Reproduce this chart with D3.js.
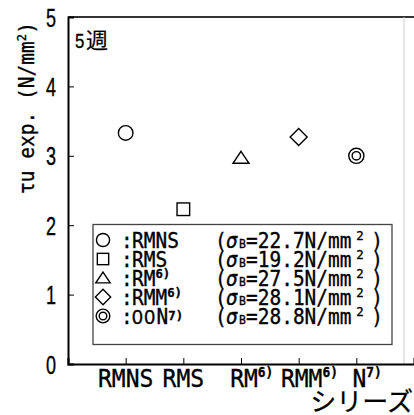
<!DOCTYPE html>
<html>
<head>
<meta charset="utf-8">
<script src="https://cdn.jsdelivr.net/npm/d3@7"></script>
<style>
  body { margin: 0; background: #fff; }
  text { font-family: "DejaVu Sans Mono", "Liberation Mono", monospace; fill: #000; stroke: #000; stroke-width: 0.35px; }
</style>
</head>
<body>
<div id="chart"></div>
<script>
// series on the x axis
const categories = ["RMNS", "RMS", "RM", "RMM", "N"];
const categorySup = ["", "", "6)", "6)", "7)"];
const shapes = ["circle", "square", "triangle", "diamond", "double"];
// tau u exp. values (N/mm2), 5 weeks
const tauValues = [3.33, 2.23, 2.97, 3.27, 3.00];
// legend
const legendNames = ["RMNS", "RMS", "RM", "RMM", "00N"];
const legendSup = ["", "", "6)", "6)", "7)"];
const sigmaB = ["22.7", "19.2", "27.5", "28.1", "28.8"];
const yTicks = [0, 1, 2, 3, 4, 5];

const width = 414, height = 415;
const mLeft = 68, mRight = 414, mTop = 17, mBottom = 364;
const cjk = "'Noto Sans CJK JP', sans-serif";
const sans = "'Liberation Sans', Arial, sans-serif";
const adv = 0.602; // mono advance per em

const svg = d3.select("#chart").append("svg")
    .attr("width", width)
    .attr("height", height);

const x = d3.scaleLinear().domain([0, categories.length + 1]).range([mLeft, mRight]);
const y = d3.scaleLinear().domain([0, 5]).range([mBottom, mTop]);

// narrow text: monospace squeezed horizontally
function ctext(parent, tx, ty, size, sx) {
    return parent.append("text")
        .attr("transform", `translate(${tx},${ty}) scale(${sx},1)`)
        .attr("font-size", size);
}

// frame: top dark, right light grey
svg.append("line").attr("x1", mLeft).attr("x2", mRight).attr("y1", mTop).attr("y2", mTop)
    .attr("stroke", "#333").attr("stroke-width", 2);
svg.append("line").attr("x1", 404).attr("x2", 404).attr("y1", mTop).attr("y2", mBottom)
    .attr("stroke", "#ccc").attr("stroke-width", 1);

// y axis
const yAxis = svg.append("g").attr("transform", `translate(${mLeft},0)`)
    .call(d3.axisLeft(y).tickValues(yTicks).tickSize(-6).tickFormat(d3.format("d")));
yAxis.select(".domain").attr("stroke", "#000").attr("stroke-width", 2);
yAxis.selectAll(".tick line").attr("stroke", "#000").attr("stroke-width", 1);
yAxis.selectAll(".tick text")
    .attr("x", null).attr("dy", null)
    .attr("font-size", 25)
    .style("font-family", sans)
    .attr("transform", "translate(-12,9) scale(0.72,1)");

// x axis
const xAxis = svg.append("g").attr("transform", `translate(0,${mBottom})`)
    .call(d3.axisBottom(x).tickValues(d3.range(1, categories.length + 1)).tickSize(-6).tickFormat(""));
xAxis.select(".domain").attr("stroke", "#000").attr("stroke-width", 2);
xAxis.selectAll(".tick line").attr("stroke", "#000").attr("stroke-width", 1);

// x labels, base text centred on tick, superscript appended
categories.forEach((c, i) => {
    const sx = 0.92, fs = 25;
    const w = c.length * fs * adv * sx;
    const t = ctext(svg, x(i + 1) - w / 2 + (categorySup[i] ? 3 : 0), 387, fs, sx);
    t.append("tspan").text(c);
    if (categorySup[i]) {
        t.append("tspan").attr("font-size", 14).attr("font-weight", "bold")
            .attr("dy", -10).text(categorySup[i]);
    }
});

svg.append("text").attr("x", 413).attr("y", 411).attr("text-anchor", "end")
    .style("font-family", cjk).attr("font-size", 26).style("stroke-width", "0.2px")
    .text("シリーズ");

// y label
svg.append("text")
    .attr("transform", "translate(34,108) rotate(-90) scale(0.93,1)")
    .attr("text-anchor", "middle")
    .attr("font-size", 21)
    .call(t => {
        t.append("tspan").text("τu exp. (N/mm");
        t.append("tspan").attr("font-size", 13).attr("dy", -8).text("2");
        t.append("tspan").attr("dy", 8).text(")");
    });

ctext(svg, 75, 48, 21, 0.8).style("font-family", sans).text("5");
svg.append("text").attr("x", 86).attr("y", 48).attr("font-size", 22)
    .style("font-family", cjk).style("stroke-width", "0.2px").text("週");

function drawMarker(g, shape, cx, cy, s) {
    const st = { fill: "#fff", stroke: "#000", "stroke-width": 1.4 };
    const apply = el => Object.entries(st).forEach(([k, v]) => el.attr(k, v));
    if (shape === "circle") {
        apply(g.append("circle").attr("cx", cx).attr("cy", cy).attr("r", 7.3 * s));
    } else if (shape === "square") {
        const h = 6.3 * s;
        apply(g.append("rect").attr("x", cx - h).attr("y", cy - h).attr("width", 2 * h).attr("height", 2 * h));
    } else if (shape === "triangle") {
        const w = 8 * s, h = 12 * s;
        apply(g.append("path").attr("d", `M${cx},${cy - h * 0.55}L${cx + w},${cy + h * 0.45}L${cx - w},${cy + h * 0.45}Z`));
    } else if (shape === "diamond") {
        const r = 8.5 * s;
        apply(g.append("path").attr("d", `M${cx},${cy - r}L${cx + r},${cy}L${cx},${cy + r}L${cx - r},${cy}Z`));
    } else {
        apply(g.append("circle").attr("cx", cx).attr("cy", cy).attr("r", 7.6 * s));
        apply(g.append("circle").attr("cx", cx).attr("cy", cy).attr("r", 4.2 * s));
    }
}

// data points
const pts = svg.append("g");
tauValues.forEach((v, i) => drawMarker(pts, shapes[i], x(i + 1), y(v), 1));

// legend
const lg = svg.append("g");
lg.append("rect").attr("x", 93).attr("y", 224.5).attr("width", 299).attr("height", 120)
    .attr("fill", "#fff").attr("stroke", "#444").attr("stroke-width", 1.3);

const rowY = d3.scaleLinear().domain([0, 4]).range([240, 316]);
legendNames.forEach((n, i) => {
    const cy = rowY(i), base = cy + 7.5;
    const fs = 20.5, sx = 0.95;
    drawMarker(lg, shapes[i], 103, cy, 0.9);
    ctext(lg, 121, base, fs, sx).text(":");
    const t = ctext(lg, 132, base, fs, sx);
    // zeros drawn plain, as in the original print
    n.split(/(0+)/).filter(p => p).forEach(p => {
        const sp = t.append("tspan").text(p);
        if (/^0+$/.test(p)) sp.style("font-family", sans).attr("letter-spacing", 1.5);
    });
    if (legendSup[i]) {
        t.append("tspan").attr("font-size", 13).attr("font-weight", "bold")
            .attr("dy", i === 4 ? -4 : -8).text(legendSup[i]);
    }
    ctext(lg, 215, base, fs, sx).text("(");
    ctext(lg, 226, base, fs, sx).attr("font-style", "italic").text("σ");
    ctext(lg, 239, base, 12, sx).text("B");
    const s = ctext(lg, 246, base, fs, sx);
    s.append("tspan").text("=" + sigmaB[i] + "N/mm");
    s.append("tspan").attr("font-size", 13).attr("dy", -8).attr("dx", 5).text("2");
    s.append("tspan").attr("dy", 8).attr("dx", 8).text(")");
});
</script>
</body>
</html>
